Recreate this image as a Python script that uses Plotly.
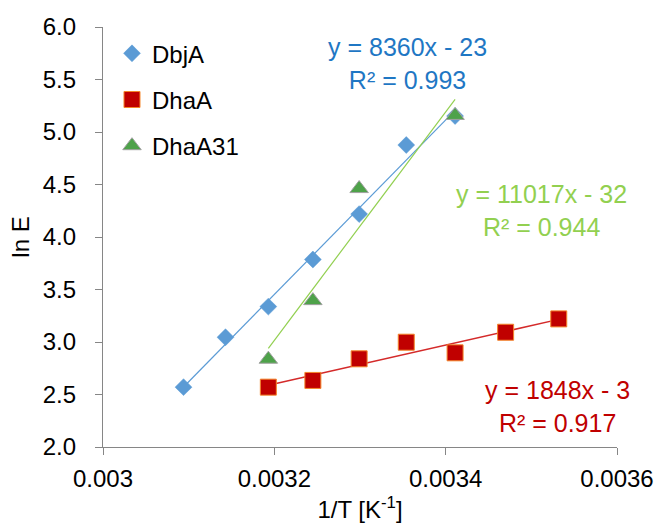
import numpy as np
import plotly.graph_objects as go

# Data (1/T in K^-1, ln E)
dbja_x = [0.003094, 0.003143, 0.003193, 0.003245, 0.003299, 0.003354, 0.003411]
dbja_y = [2.57, 3.045, 3.337, 3.786, 4.218, 4.876, 5.152]

dhaa_x = [0.003193, 0.003245, 0.003299, 0.003354, 0.003411, 0.003470, 0.003532]
dhaa_y = [2.570, 2.634, 2.840, 2.998, 2.897, 3.093, 3.220]

dhaa31_x = [0.003193, 0.003245, 0.003299, 0.003411]
dhaa31_y = [2.836, 3.394, 4.461, 5.158]

x_ticks = [0.003, 0.0032, 0.0034, 0.0036]
x_tick_labels = ["0.003", "0.0032", "0.0034", "0.0036"]

eq_texts = {
    "DbjA": "y = 8360x - 23<br>R² = 0.993",
    "DhaA": "y = 1848x - 3<br>R² = 0.917",
    "DhaA31": "y = 11017x - 32<br>R² = 0.944",
}

FONT = "Liberation Sans, Arial, sans-serif"

series = [
    dict(name="DbjA", x=dbja_x, y=dbja_y, symbol="diamond", size=13,
         color="#5B9BD5", lcolor="#5B9BD5", lwidth=1.2,
         mline=dict(color="#5B9BD5", width=0.5), tcolor="#1F77C4",
         ax=0.003355, ay=5.65),
    dict(name="DhaA", x=dhaa_x, y=dhaa_y, symbol="square", size=16,
         color="#C00000", lcolor="#D42A2A", lwidth=1.5,
         mline=dict(color="#F4862B", width=1), tcolor="#C00000",
         ax=0.003531, ay=2.39),
    dict(name="DhaA31", x=dhaa31_x, y=dhaa31_y, symbol="triangle-up", size=16,
         color="#4EA24A", lcolor="#92D050", lwidth=1.2,
         mline=dict(color="#A0A0A0", width=1), tcolor="#92D050",
         ax=0.003512, ay=4.25),
]

fig = go.Figure()

# trendlines first (under markers)
for s in series:
    xa = np.array(s["x"]); ya = np.array(s["y"])
    m, b = np.polyfit(xa, ya, 1)
    xs = np.array([xa.min(), xa.max()])
    fig.add_trace(go.Scatter(x=xs, y=m * xs + b, mode="lines",
                             line=dict(color=s["lcolor"], width=s["lwidth"]),
                             showlegend=False, hoverinfo="skip"))

for i, s in enumerate(series):
    fig.add_trace(go.Scatter(x=s["x"], y=s["y"], mode="markers", name=s["name"],
                             legendgroup=s["name"],
                             marker=dict(symbol=s["symbol"], size=s["size"],
                                         color=s["color"], line=s["mline"])))
    fig.add_annotation(x=s["ax"], y=s["ay"], text=eq_texts[s["name"]],
                       showarrow=False, align="center",
                       font=dict(family=FONT, size=25, color=s["tcolor"]))

axis_common = dict(showgrid=False, zeroline=False, showline=True,
                   linecolor="#868686", linewidth=1.3, ticks="outside",
                   tickcolor="#868686", ticklen=7, tickwidth=1.3,
                   tickfont=dict(family=FONT, size=24, color="#000000"),
                   mirror=False, automargin=False)

fig.update_layout(
    width=660, height=527,
    margin=dict(l=103, r=43, t=27, b=80),
    plot_bgcolor="white", paper_bgcolor="white",
    font=dict(family=FONT, size=24, color="#000000"),
    xaxis=dict(range=[0.003, 0.0036], tickvals=x_ticks, ticktext=x_tick_labels,
               ticklabelstandoff=3,
               title=dict(text="1/T [K<sup>-1</sup>]", font=dict(family=FONT, size=24),
                          standoff=10),
               **axis_common),
    yaxis=dict(range=[2, 6], dtick=0.5, tick0=2, tickformat=".1f",
               ticklabelstandoff=14,
               title=dict(text="ln E", font=dict(family=FONT, size=24), standoff=6),
               **axis_common),
    legend=dict(x=0.0175, y=0.99, xanchor="left", yanchor="top",
                bgcolor="rgba(0,0,0,0)", font=dict(family=FONT, size=24),
                tracegroupgap=12, itemwidth=30),
)

fig.write_html("out.html")
